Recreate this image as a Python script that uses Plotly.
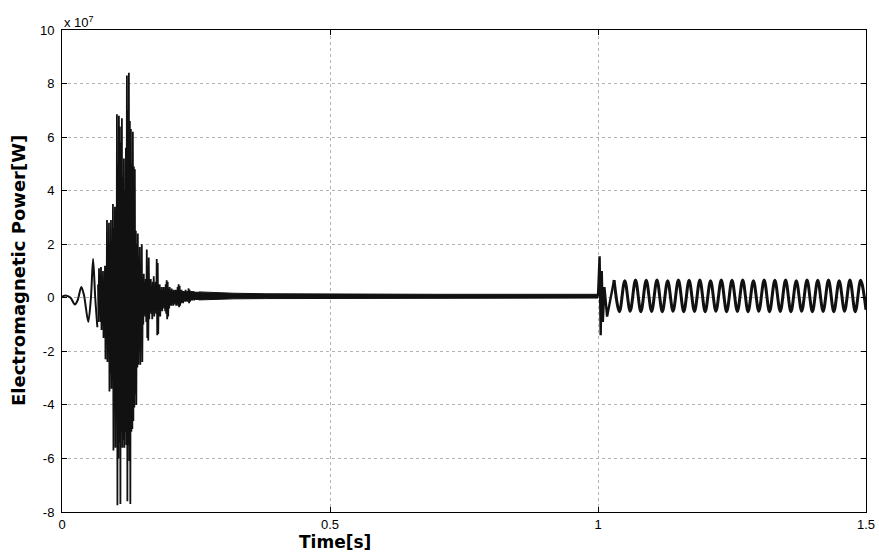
import numpy as np
import plotly.graph_objects as go

# ---------------- data (units of 1e7 W) ----------------
# start-up oscillation before the burst
pre_t = [0.000, 0.008, 0.016, 0.024, 0.029, 0.036, 0.041, 0.049, 0.054, 0.058, 0.062, 0.066]
pre_v = [0.05, 0.08, 0.00, -0.25, -0.10, 0.40, 0.10, -0.90, 0.00, 1.45, 0.00, -1.10]

# dense burst (alternating local max / min, uniformly sampled)
burst_t_start = 0.0672
burst_t_end = 0.2575
burst_v = [
    0.5, -0.9, 1.1, -0.6, 0.6, -0.9, 1.15, -1.2, 0.4, -0.7,
    1.0, -1.5, 0.5, -1.0, 1.2, -2.3, 0.8, -1.6, 2.9, -2.4,
    1.5, -2.0, 2.8, -3.5, 2.0, -2.8, 2.9, -3.4, 1.8, -2.6,
    3.5, -5.7, 2.6, -4.0, 3.4, -5.6, 2.8, -4.5, 6.85, -7.75,
    5.0, -6.0, 6.8, -5.4, 6.4, -7.7, 5.8, -5.0, 6.7, -5.6,
    4.5, -5.3, 5.2, -5.6, 4.0, -5.0, 5.6, -5.5, 8.3, -7.6,
    7.0, -5.5, 8.4, -6.1, 6.6, -7.7, 6.3, -5.0, 5.0, -4.9,
    6.2, -4.6, 4.9, -4.1, 4.8, -3.6, 2.5, -4.0, 2.0, -2.6,
    2.4, -2.5, 1.5, -2.0, 1.9, -2.5, 1.2, -1.8, 2.0, -2.4,
    0.6, -1.0, 0.9, -0.6, 0.4, -0.7, 0.7, -0.9, 1.8, -1.5,
    1.2, -1.6, 1.5, -0.8, 0.5, -0.5, 0.7, -0.6, 0.3, -0.8,
    0.6, -0.4, 0.8, -0.7, 0.4, -0.5, 0.6, -0.6, 1.45, -1.4,
    1.3, -1.35, 0.4, -0.5, 0.5, -0.7, 0.3, -0.4, 0.4, -0.5,
    0.2, -0.3, 0.4, -0.4, 0.3, -0.5, 0.5, -0.6, 0.65, -0.8,
    0.6, -0.7, 0.3, -0.4, 0.4, -0.3, 0.2, -0.3, 0.35, -0.2,
    0.2, -0.3, 0.3, -0.25, 0.25, -0.2, 0.3, -0.3, 0.2, -0.2,
    0.4, -0.3, 0.5, -0.35, 0.45, -0.3, 0.2, -0.2, 0.3, -0.15,
    0.2, -0.2, 0.25, -0.1, 0.2, -0.15, 0.3, -0.1, 0.2, -0.15,
    0.25, -0.1, 0.35, -0.2, 0.3, -0.15, 0.2, -0.1, 0.25, -0.1,
    0.2, -0.05, 0.25, -0.1, 0.2, -0.05, 0.22, -0.08, 0.2, -0.05,
    0.22, -0.08, 0.2, -0.05, 0.2, -0.05,
]

# steady tail (thin band: upper / lower envelope)
tail_t = [0.255, 0.28, 0.32, 0.38, 0.45, 0.55, 0.70, 0.85, 1.00]
tail_hi = [0.22, 0.19, 0.17, 0.15, 0.14, 0.13, 0.13, 0.13, 0.13]
tail_lo = [-0.08, -0.06, -0.04, -0.03, -0.02, -0.01, -0.01, -0.01, -0.01]

# disturbance at t = 1 s
spike_t = [1.000, 1.003, 1.005, 1.007, 1.009, 1.012, 1.017, 1.030]
spike_v = [0.06, 1.55, -1.40, 1.00, -0.90, 0.40, -0.70, 0.66]

# sustained 50 Hz oscillation after the disturbance
wave_t = [1.030, 1.040, 1.050, 1.060, 1.070, 1.080, 1.090, 1.100, 1.110, 1.120,
          1.130, 1.140, 1.150, 1.160, 1.170, 1.180, 1.190, 1.200, 1.210, 1.220,
          1.230, 1.240, 1.250, 1.260, 1.270, 1.280, 1.290, 1.300, 1.310, 1.320,
          1.330, 1.340, 1.350, 1.360, 1.370, 1.380, 1.390, 1.400, 1.410, 1.420,
          1.430, 1.440, 1.450, 1.460, 1.470, 1.480, 1.490, 1.500]
wave_v = [0.66, -0.52, 0.64, -0.50, 0.66, -0.52, 0.65, -0.51, 0.66, -0.52,
          0.64, -0.50, 0.66, -0.52, 0.65, -0.51, 0.66, -0.52, 0.64, -0.50,
          0.66, -0.52, 0.65, -0.51, 0.66, -0.52, 0.64, -0.50, 0.66, -0.52,
          0.65, -0.51, 0.66, -0.52, 0.64, -0.50, 0.66, -0.52, 0.65, -0.51,
          0.66, -0.52, 0.64, -0.50, 0.66, -0.52, 0.65, -0.45]

x_ticks = [0, 0.5, 1, 1.5]
x_labels = ["0", "0.5", "1", "1.5"]
y_ticks = [10, 8, 6, 4, 2, 0, -2, -4, -6, -8]
y_labels = ["10", "8", "6", "4", "2", "0", "-2", "-4", "-6", "-8"]

# ---------------- figure ----------------
burst_t = np.linspace(burst_t_start, burst_t_end, len(burst_v))
ink = "#111111"

fig = go.Figure()
fig.add_trace(go.Scatter(
    x=tail_t + tail_t[::-1], y=tail_hi + tail_lo[::-1],
    fill="toself", fillcolor=ink, mode="lines",
    line=dict(color=ink, width=1), hoverinfo="skip"))
fig.add_trace(go.Scatter(x=pre_t, y=pre_v, mode="lines",
                         line=dict(color=ink, width=2, shape="spline", smoothing=0.8)))
fig.add_trace(go.Scatter(x=burst_t, y=burst_v, mode="lines",
                         line=dict(color=ink, width=1.8)))
fig.add_trace(go.Scatter(x=spike_t, y=spike_v, mode="lines",
                         line=dict(color=ink, width=2.4)))
fig.add_trace(go.Scatter(x=wave_t, y=wave_v, mode="lines",
                         line=dict(color=ink, width=3, shape="spline", smoothing=1.0)))

font_family = "Liberation Sans, Arial, sans-serif"
title_family = "DejaVu Sans, Liberation Sans, sans-serif"
axis_common = dict(
    automargin=False,
    ticks="inside", ticklen=5, tickcolor="black",
    showline=True, linecolor="black", linewidth=1, mirror="ticks",
    showgrid=True, gridcolor="#b4b4b4", griddash="dot", gridwidth=1,
    zeroline=False, tickfont=dict(family=font_family, size=13, color="black"),
)

fig.update_layout(
    template="none",
    width=879, height=553,
    margin=dict(l=62, r=13, t=30, b=41),
    paper_bgcolor="white", plot_bgcolor="white",
    showlegend=False,
    xaxis=dict(range=[0, 1.5], tickvals=x_ticks, ticktext=x_labels, **axis_common),
    yaxis=dict(range=[-8, 10], tickvals=y_ticks, ticktext=y_labels,
               ticklabelstandoff=4, **axis_common),
    annotations=[
        dict(text="x 10<sup>7</sup>", xref="paper", yref="paper",
             x=0, y=1, xanchor="left", yanchor="bottom", yshift=-2, showarrow=False,
             font=dict(family=font_family, size=13, color="black")),
        dict(text="<b>Time[s]</b>", xref="x", yref="paper",
             x=0.51, y=0, xanchor="center", yanchor="bottom", yshift=-42, showarrow=False,
             font=dict(family=title_family, size=17, color="black")),
        dict(text="<b>Electromagnetic Power[W]</b>", xref="paper", yref="paper",
             x=0, y=0.5, xanchor="center", yanchor="middle", xshift=-44,
             textangle=-90, showarrow=False,
             font=dict(family=title_family, size=18, color="black")),
    ],
)

fig.write_html("out.html")
